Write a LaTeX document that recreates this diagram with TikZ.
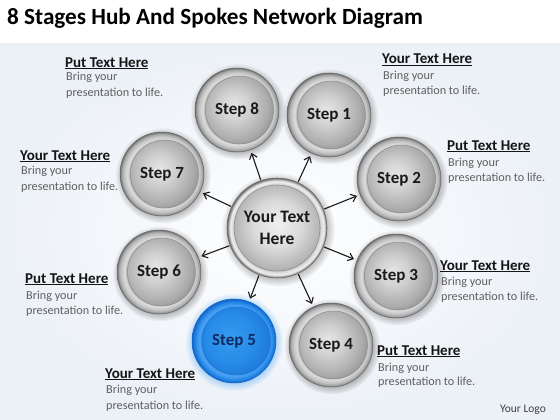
\documentclass[tikz,border=0pt]{standalone}
\usepackage{fontspec}
\setmainfont{Carlito}
\usetikzlibrary{arrows.meta,fadings}

\definecolor{bgBlue}{RGB}{236,241,247}
\definecolor{ringEdge}{RGB}{105,105,105}
\definecolor{rA}{RGB}{170,170,170}
\definecolor{rB}{RGB}{222,222,222}
\definecolor{rC}{RGB}{192,192,192}
\definecolor{rD}{RGB}{155,155,155}
\definecolor{sA}{RGB}{230,230,230}
\definecolor{sB}{RGB}{208,208,208}
\definecolor{sC}{RGB}{170,170,170}
\definecolor{sD}{RGB}{140,140,140}
\definecolor{hA}{RGB}{240,240,240}
\definecolor{hB}{RGB}{218,218,218}
\definecolor{hC}{RGB}{178,178,178}
\definecolor{hD}{RGB}{145,145,145}
\definecolor{bA}{RGB}{25,115,220}
\definecolor{bB}{RGB}{80,165,245}
\definecolor{bC}{RGB}{40,138,232}
\definecolor{bD}{RGB}{18,100,200}
\definecolor{bsA}{RGB}{55,155,240}
\definecolor{bsB}{RGB}{40,140,232}
\definecolor{bsC}{RGB}{28,118,215}
\definecolor{stepText}{RGB}{25,25,25}
\definecolor{blueText}{RGB}{15,40,95}
\definecolor{headText}{RGB}{20,20,20}
\definecolor{bodyText}{RGB}{95,95,95}

\pgfdeclareradialshading{ringgray}{\pgfpointorigin}{color(0bp)=(rA); color(19bp)=(rA); color(20.5bp)=(rB); color(22.8bp)=(rC); color(24.3bp)=(rD); color(25bp)=(ringEdge); color(50bp)=(ringEdge)}
\pgfdeclareradialshading{spheregray}{\pgfpoint{-2bp}{3bp}}{color(0bp)=(sA); color(9bp)=(sB); color(20bp)=(sC); color(25bp)=(sD); color(50bp)=(sD)}
\pgfdeclareradialshading{ringhub}{\pgfpointorigin}{color(0bp)=(hC); color(21bp)=(hC); color(22bp)=(hB); color(23.5bp)=(hA); color(24.5bp)=(hD); color(25bp)=(ringEdge); color(50bp)=(ringEdge)}
\pgfdeclareradialshading{spherehub}{\pgfpoint{0bp}{2bp}}{color(0bp)=(hA); color(12bp)=(hB); color(22bp)=(hC); color(25bp)=(hD); color(50bp)=(hD)}
\pgfdeclareradialshading{ringblue}{\pgfpointorigin}{color(0bp)=(bA); color(19bp)=(bA); color(20.5bp)=(bB); color(23bp)=(bC); color(25bp)=(bD); color(50bp)=(bD)}
\pgfdeclareradialshading{sphereblue}{\pgfpoint{-3bp}{2bp}}{color(0bp)=(bsA); color(14bp)=(bsB); color(25bp)=(bsC); color(50bp)=(bsC)}

\tikzset{
  stepball/.style={circle, minimum size=84pt, inner sep=0pt, shading=ringgray,
    draw=ringEdge, line width=0.5pt, text=stepText,
    font=\fontsize{17}{17}\selectfont\bfseries,
    path picture={\shade[shading=spheregray] ([xshift=2.5pt]path picture bounding box.center) circle (34pt);
      \draw[sD, line width=0.5pt] ([xshift=2.5pt]path picture bounding box.center) circle (34pt);}},
  blueball/.style={circle, minimum size=84pt, inner sep=0pt, shading=ringblue,
    draw=bD, line width=0.5pt, text=blueText,
    font=\fontsize{17}{17}\selectfont\bfseries,
    path picture={\shade[shading=sphereblue] ([xshift=2.5pt]path picture bounding box.center) circle (34pt);
      \draw[bsC, line width=0.5pt] ([xshift=2.5pt]path picture bounding box.center) circle (34pt);}},
  hubball/.style={circle, minimum size=100pt, inner sep=0pt, shading=ringhub,
    draw=ringEdge, line width=0.6pt, text=stepText, align=center,
    font=\fontsize{17.5}{22}\selectfont\bfseries,
    path picture={\shade[shading=spherehub] (path picture bounding box.center) circle (43pt);
      \draw[hD, line width=0.6pt] (path picture bounding box.center) circle (43pt);}},
  halo/.style={fill=black, fill opacity=0.3, path fading=circle with fuzzy edge 20 percent},
  bluehalo/.style={fill=bB, fill opacity=0.5, path fading=circle with fuzzy edge 20 percent},
  spoke/.style={draw=black!90, line width=1.1pt, -{Straight Barb[length=5pt,width=8pt]}, shorten >=3pt, shorten <=0.5pt},
  headtxt/.style={anchor=base west, inner sep=0pt, text=headText, font=\fontsize{15}{15}\selectfont\bfseries},
  bodytxt/.style={anchor=base west, inner sep=0pt, text=bodyText, font=\fontsize{12.2}{15}\selectfont},
}

\begin{document}
\begin{tikzpicture}[x=1pt, y=-1pt]
\useasboundingbox (0,0) rectangle (560,420);
\fill[white] (0,0) rectangle (560,420);
\shade[inner color=white, outer color=bgBlue] (0,44) rectangle (560,420);

% title
\node[anchor=base west, inner sep=0pt, text=black, font=\fontsize{23.2}{23}\selectfont\bfseries] (title) at (7,25) {8 Stages Hub And Spokes Network Diagram};

% centres
\coordinate (ch) at (277,228);
\coordinate (c1) at (329,115);
\coordinate (c2) at (399,179);
\coordinate (c3) at (396,276);
\coordinate (c4) at (331,345);
\coordinate (c5) at (234,341);
\coordinate (c6) at (159,272);
\coordinate (c7) at (162,174);
\coordinate (c8) at (237,110);

% soft shadows
\foreach \c in {c1,c2,c3,c4,c6,c7,c8} {
  \fill[halo] ([shift={(1,1.5)}]\c) circle (48pt);
}
\fill[bluehalo] ([shift={(0,1)}]c5) circle (49pt);
\fill[halo] ([shift={(1,1.5)}]ch) circle (57pt);

% balls
\node[hubball] (hub) at (ch) {Your Text\\Here};
\node[stepball] (s1) at (c1) {Step 1};
\node[stepball] (s2) at (c2) {Step 2};
\node[stepball] (s3) at (c3) {Step 3};
\node[stepball] (s4) at (c4) {Step 4};
\node[blueball] (s5) at (c5) {Step 5};
\node[stepball] (s6) at (c6) {Step 6};
\node[stepball] (s7) at (c7) {Step 7};
\node[stepball] (s8) at (c8) {Step 8};

% spokes
\foreach \s in {s1,s2,s3,s4,s5,s6,s7,s8} {
  \draw[spoke] (hub) -- (\s);
}

% text blocks
\node[headtxt] (ha) at (65,67) {\underline{Put Text Here}};
\node[bodytxt] (ba1) at (66,81) {Bring your};
\node[bodytxt] (ba2) at (66,96) {presentation to life.};

\node[headtxt] (hb) at (20,160) {\underline{Your Text Here}};
\node[bodytxt] (bb1) at (21,174) {Bring your};
\node[bodytxt] (bb2) at (21,190) {presentation to life.};

\node[headtxt] (hc) at (382,64) {\underline{Your Text Here}};
\node[bodytxt] (bc1) at (383,80) {Bring your};
\node[bodytxt] (bc2) at (383,95) {presentation to life.};

\node[headtxt] (hd) at (447,150) {\underline{Put Text Here}};
\node[bodytxt] (bd1) at (448,166) {Bring your};
\node[bodytxt] (bd2) at (448,181) {presentation to life.};

\node[headtxt] (he) at (440,270) {\underline{Your Text Here}};
\node[bodytxt] (be1) at (441,285) {Bring your};
\node[bodytxt] (be2) at (441,300) {presentation to life.};

\node[headtxt] (hf) at (377,355) {\underline{Put Text Here}};
\node[bodytxt] (bf1) at (378,371) {Bring your};
\node[bodytxt] (bf2) at (378,385) {presentation to life.};

\node[headtxt] (hg) at (25,283) {\underline{Put Text Here}};
\node[bodytxt] (bg1) at (26,299) {Bring your};
\node[bodytxt] (bg2) at (26,314) {presentation to life.};

\node[headtxt] (hh) at (105,378) {\underline{Your Text Here}};
\node[bodytxt] (bh1) at (106,393) {Bring your};
\node[bodytxt] (bh2) at (106,409) {presentation to life.};

\node[anchor=base, inner sep=0pt, text=black!75, font=\fontsize{11.5}{12}\selectfont] (logo) at (523,412) {Your Logo};
\end{tikzpicture}
\end{document}
